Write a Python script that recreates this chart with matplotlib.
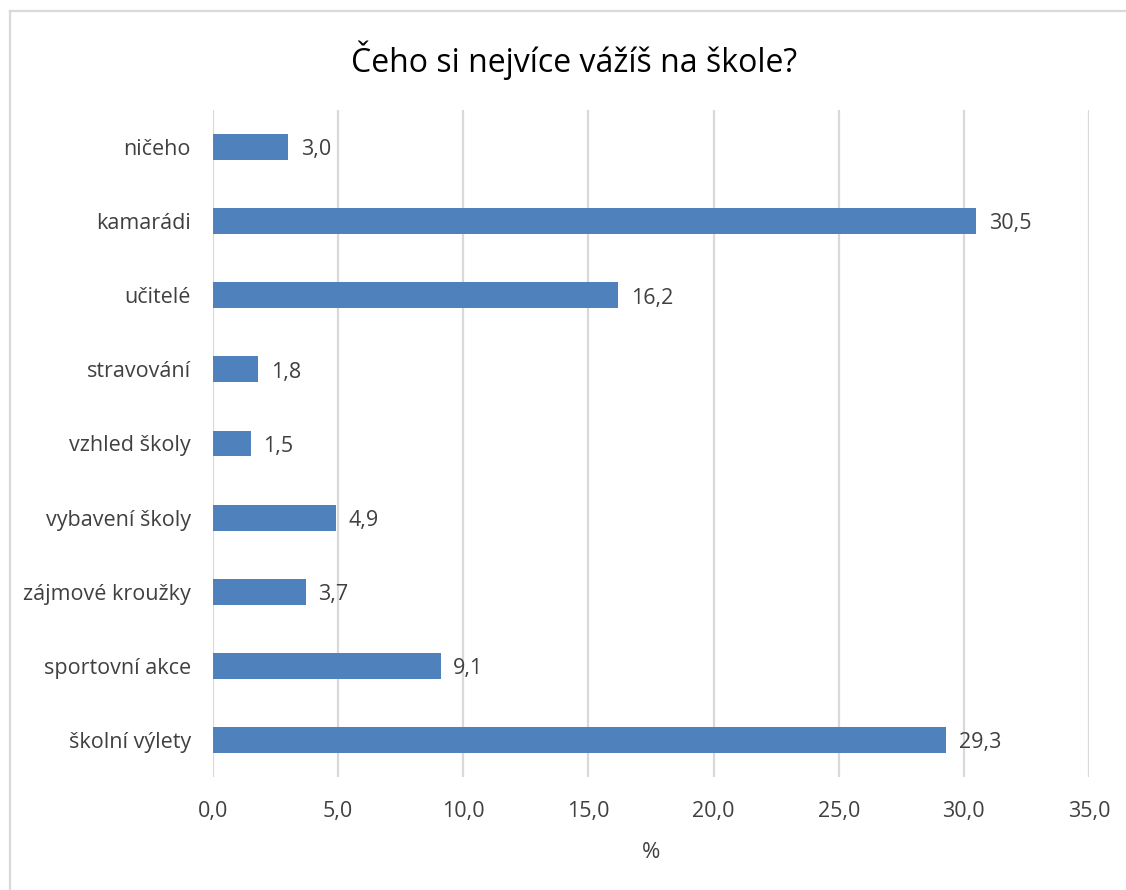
"""Bar chart: Čeho si nejvíce vážíš na škole?"""
import matplotlib
matplotlib.use("Agg")
import matplotlib.pyplot as plt
from matplotlib.lines import Line2D

categories = ["ničeho", "kamarádi", "učitelé", "stravování", "vzhled školy",
              "vybavení školy", "zájmové kroužky", "sportovní akce", "školní výlety"]
values = [3.0, 30.5, 16.2, 1.8, 1.5, 4.9, 3.7, 9.1, 29.3]
x_ticks = [0, 5, 10, 15, 20, 25, 30, 35]

plt.rcParams['font.family'] = ['Open Sans', 'DejaVu Sans']
text_color = '#404040'
bar_color = '#4F81BD'
grid_color = '#D9D9D9'

fig = plt.figure(figsize=(11.26, 8.9), dpi=100)
ax = fig.add_axes([0.1892, 0.127, 0.7779, 0.7494])

positions = list(range(len(categories)))
ax.barh(positions, values, height=0.35, color=bar_color, zorder=3)
ax.set_ylim(len(categories) - 0.5, -0.5)
ax.set_yticks(positions)
ax.set_yticklabels(categories, fontsize=15.5, color=text_color)

# value labels
for pos, val in zip(positions, values):
    ax.annotate(f"{val:.1f}".replace('.', ','), (val, pos), textcoords="offset points",
                xytext=(9, -2), va='center', ha='left', fontsize=15.5, color=text_color)

ax.set_xlim(0, 35)
ax.set_xticks(x_ticks)
ax.set_xticklabels([f"{t:.1f}".replace('.', ',') for t in x_ticks], fontsize=15.5, color=text_color)
ax.set_xlabel('%', fontsize=16, color=text_color, labelpad=15)
ax.grid(axis='x', color=grid_color, linewidth=1.6, zorder=0)
ax.tick_params(axis='y', length=0, pad=16)
ax.tick_params(axis='x', length=0, pad=17)
for side in ax.spines.values():
    side.set_visible(False)

fig.suptitle('Čeho si nejvíce vážíš na škole?', x=0.51, y=0.955, fontsize=23, color='black')

# outer chart border (top and left)
fig.add_artist(Line2D([10 / 1126, 10 / 1126], [0, 1 - 11 / 890], transform=fig.transFigure,
                      color='#D9D9D9', linewidth=1.6))
fig.add_artist(Line2D([10 / 1126, 1], [1 - 11 / 890, 1 - 11 / 890], transform=fig.transFigure,
                      color='#D9D9D9', linewidth=1.6))

fig.savefig('out.png', dpi=100)
